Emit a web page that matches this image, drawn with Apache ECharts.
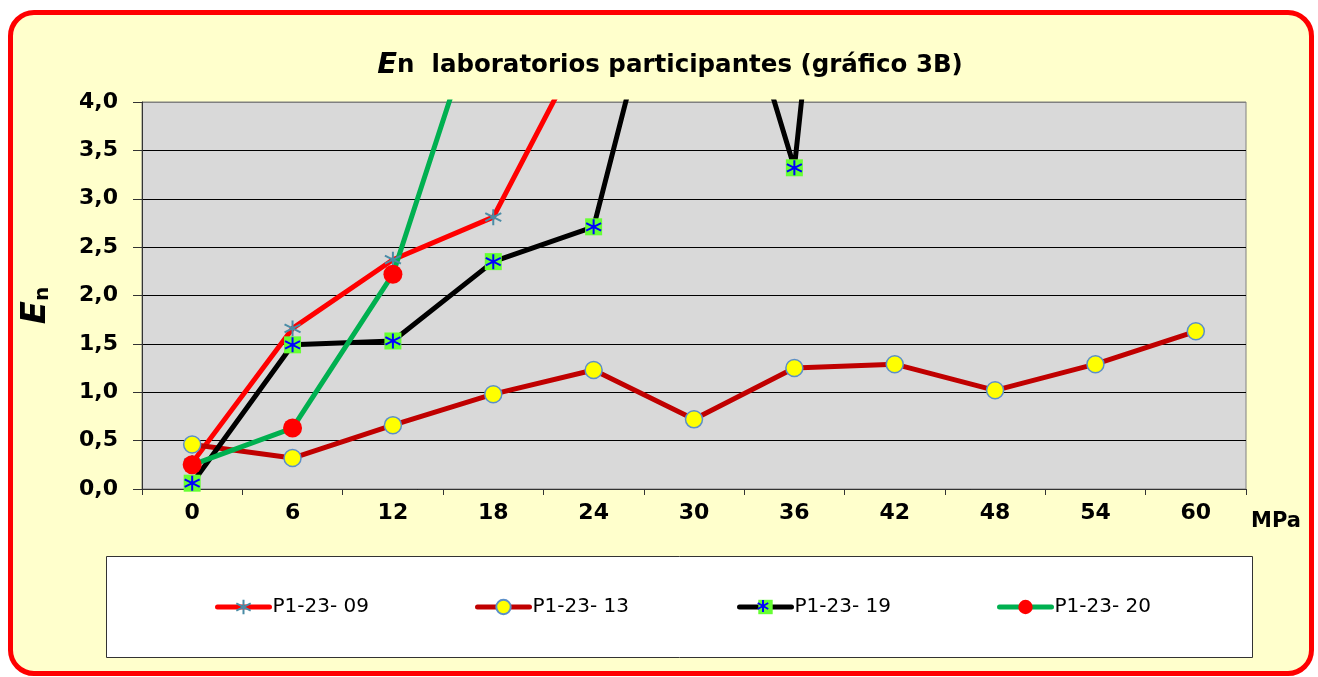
<!DOCTYPE html>
<html>
<head>
<meta charset="utf-8">
<script src="https://cdn.jsdelivr.net/npm/echarts@6/dist/echarts.min.js"></script>
<style>
  body { margin: 0; background: #fff; }
  #frame {
    position: absolute; left: 8px; top: 10px; width: 1296px; height: 656px;
    border: 5px solid #ff0000; border-radius: 26px; background: #ffffcc;
  }
  #main { position: absolute; left: 0; top: 0; width: 1318px; height: 677px; }
</style>
</head>
<body>
<div id="frame"></div>
<div id="main"></div>
<script>
// valores
const categories = ["0", "6", "12", "18", "24", "30", "36", "42", "48", "54", "60"];
const p09 = [0.27, 1.66, 2.37, 2.81, 4.8];
const p13 = [0.46, 0.32, 0.66, 0.98, 1.23, 0.72, 1.25, 1.29, 1.02, 1.29, 1.63];
const p19 = [0.06, 1.49, 1.53, 2.35, 2.71, 6.75, 3.32, 13.0];
const p20 = [0.25, 0.63, 2.22, 5.4];
const names = ["P1-23- 09", "P1-23- 13", "P1-23- 19", "P1-23- 20"];
const lineColors = ["#ff0000", "#c00000", "#000000", "#00b050"];

const asterisk = "path://M5,0L5,10M0.67,2.5L9.33,7.5M0.67,7.5L9.33,2.5";
const font = "'DejaVu Sans', Arial, sans-serif";

var chart = echarts.init(document.getElementById("main"));

var legendLeft = [215, 475, 737, 997];
var legends = names.map(function (n, i) {
  return {
    data: [n],
    left: legendLeft[i],
    top: 597,
    padding: 0,
    itemWidth: 52,
    itemHeight: 18,
    lineStyle: { width: 5, cap: "round", color: lineColors[i] },
    textStyle: { fontSize: 20, color: "#000", fontFamily: font, padding: [0, 0, 0, -2] },
  };
});

// asterisco azul del icono de la leyenda P1-23- 19
var ax = 763, ay = 606, ar = 6;
var legendStar = [
  [ax, ay - ar, ax, ay + ar],
  [ax - ar * 0.87, ay - ar / 2, ax + ar * 0.87, ay + ar / 2],
  [ax - ar * 0.87, ay + ar / 2, ax + ar * 0.87, ay - ar / 2],
].map(function (l) {
  return {
    type: "line",
    z: 10,
    shape: { x1: l[0], y1: l[1], x2: l[2], y2: l[3] },
    style: { stroke: "#0000ff", lineWidth: 2 },
  };
});

var option = {
  animation: false,
  textStyle: { fontFamily: font },
  title: {
    text: "{e|E}{n|n  laboratorios participantes (gráfico 3B)}",
    left: 665,
    textAlign: "center",
    top: 46,
    textStyle: {
      rich: {
        e: { fontSize: 29, fontWeight: "bold", fontStyle: "italic", color: "#000", fontFamily: font },
        n: { fontSize: 24.5, fontWeight: "bold", color: "#000", fontFamily: font },
      },
    },
  },
  legend: legends,
  grid: {
    left: 142,
    top: 102,
    right: 72,
    bottom: 188,
    show: true,
    backgroundColor: "#d9d9d9",
    borderColor: "#808080",
    borderWidth: 1,
  },
  graphic: [
    {
      type: "rect",
      shape: { x: 106.5, y: 556.5, width: 1146, height: 101 },
      style: { fill: "#fff", stroke: "#333", lineWidth: 1 },
    },
  ].concat(legendStar),
  xAxis: {
    type: "category",
    data: categories,
    boundaryGap: true,
    name: "MPa",
    nameLocation: "end",
    nameGap: 5,
    nameTextStyle: { fontSize: 21, fontWeight: "bold", color: "#000", verticalAlign: "top", padding: [22, 0, 0, 0] },
    axisLine: { lineStyle: { color: "#333", width: 1 } },
    axisTick: { show: true, length: 6, alignWithLabel: false, lineStyle: { color: "#333" } },
    axisLabel: { fontSize: 22, fontWeight: "bold", color: "#000", margin: 13 },
  },
  yAxis: {
    type: "value",
    min: 0,
    max: 4,
    interval: 0.5,
    name: "{e|E}{n|n}",
    nameLocation: "middle",
    nameRotate: 90,
    nameGap: 89,
    nameTextStyle: {
      padding: [0, 20, 0, 0],
      rich: {
        e: { fontSize: 34, fontWeight: "bold", fontStyle: "italic", color: "#000", fontFamily: font, verticalAlign: "bottom" },
        n: { fontSize: 20, fontWeight: "bold", color: "#000", fontFamily: font, verticalAlign: "bottom" },
      },
    },
    axisLine: { show: true, lineStyle: { color: "#333", width: 1 } },
    axisTick: { show: true, length: 9, lineStyle: { color: "#333" } },
    axisLabel: {
      fontSize: 22,
      fontWeight: "bold",
      color: "#000",
      margin: 24,
      formatter: function (v) { return v.toFixed(1).replace(".", ","); },
    },
    splitLine: {
      lineStyle: {
        color: ["#000", "#000", "#000", "#000", "#000", "#000", "#000", "#000", "#808080"],
        width: 1,
      },
    },
  },
  series: [
    {
      name: names[0],
      type: "line",
      data: p09,
      symbol: asterisk,
      symbolSize: 16,
      lineStyle: { color: lineColors[0], width: 5, cap: "round", join: "round" },
      itemStyle: { color: "rgba(0,0,0,0)", borderColor: "#4a8ca6", borderWidth: 2 },
    },
    {
      name: names[1],
      type: "line",
      data: p13,
      symbol: "circle",
      symbolSize: 17,
      lineStyle: { color: lineColors[1], width: 5, cap: "round", join: "round" },
      itemStyle: { color: "#ffff00", borderColor: "#5b8fc9", borderWidth: 1.5 },
    },
    {
      name: names[2],
      type: "line",
      data: p19,
      symbol: "rect",
      symbolSize: 17,
      lineStyle: { color: lineColors[2], width: 5, cap: "round", join: "round" },
      itemStyle: { color: "#66ff33" },
    },
    {
      name: "p19marks",
      type: "line",
      data: p19,
      symbol: asterisk,
      symbolSize: 15,
      lineStyle: { width: 0, opacity: 0 },
      itemStyle: { color: "rgba(0,0,0,0)", borderColor: "#0000ff", borderWidth: 2 },
    },
    {
      name: names[3],
      type: "line",
      data: p20,
      symbol: "circle",
      symbolSize: 19,
      lineStyle: { color: lineColors[3], width: 5, cap: "round", join: "round" },
      itemStyle: { color: "#ff0000" },
    },
  ],
};

option && chart.setOption(option);
</script>
</body>
</html>
